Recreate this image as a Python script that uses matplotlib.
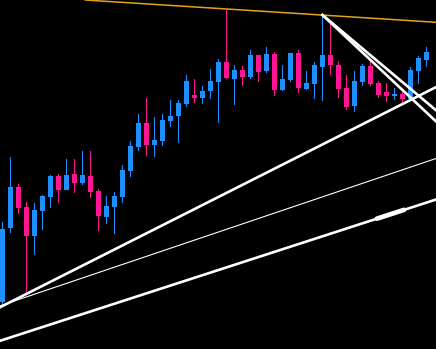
import matplotlib
matplotlib.use("Agg")
import matplotlib.pyplot as plt
import numpy as np

# OHLC of the 54 visible bars (chart units)
opens = [47, 121, 162, 142, 113, 138, 152, 173, 159, 175,
         166, 173, 158, 132, 142, 152, 178, 202, 226, 204,
         208, 228, 233, 245, 254, 251, 258, 267, 287, 270,
         279, 272, 294, 278, 295, 259, 269, 296, 260, 265,
         282, 294, 284, 261, 243, 267, 283, 266, 257, 253,
         255, 250, 278, 289]
highs = [127, 192, 165, 147, 146, 154, 174, 175, 190, 190,
         198, 198, 160, 153, 157, 184, 208, 235, 251, 232,
         235, 249, 249, 274, 270, 263, 280, 290, 339, 284,
         283, 299, 294, 302, 297, 284, 296, 299, 278, 287,
         334, 327, 288, 274, 278, 285, 288, 268, 266, 261,
         259, 282, 293, 302]
lows = [43, 116, 135, 56, 94, 119, 141, 146, 159, 156,
        164, 151, 118, 125, 115, 146, 172, 198, 193, 192,
        203, 222, 206, 242, 246, 245, 250, 226, 270, 244,
        263, 270, 267, 276, 253, 258, 267, 256, 259, 250,
        248, 274, 251, 239, 237, 263, 263, 251, 247, 249,
        246, 249, 265, 282]
closes = [120, 162, 141, 113, 139, 153, 173, 159, 174, 166,
          174, 157, 133, 143, 153, 179, 203, 226, 204, 209,
          229, 233, 246, 268, 251, 258, 268, 287, 271, 279,
          272, 294, 277, 295, 259, 270, 296, 261, 266, 284,
          294, 284, 260, 242, 268, 283, 265, 254, 253, 255,
          250, 279, 291, 297]

# drawn objects: (bar index, price) anchor pairs
resistance = [(19, 344.6), (54, 326.8)]
support_fast = [(0, 43), (51, 249)]
support_slow = [(0, 44), (54, 190)]
channel_low = [(0, 9), (54, 149)]
fan_a = [(40, 334), (54, 240)]
fan_b = [(40, 334), (54, 229)]
channel_mark = (46.8, 50.2)

up_col = "#1e8fff"
down_col = "#ff1493"

x_lo, x_hi = -2.5 / 8, (436 - 2.5) / 8


def ray(pts, x_end):
    (xa, ya), (xb, yb) = pts
    k = (yb - ya) / (xb - xa)
    return [xa, x_end], [ya, ya + k * (x_end - xa)]


fig = plt.figure(figsize=(4.36, 3.49), dpi=100, facecolor="black")
ax = fig.add_axes([0, 0, 1, 1])
ax.set_facecolor("black")
ax.set_axis_off()

o = np.array(opens)
h = np.array(highs)
l = np.array(lows)
c = np.array(closes)
idx = np.arange(len(o))
cols = np.where(c >= o, up_col, down_col)

# wicks as 1px wide bars so they stay crisp
ax.bar(idx, h - l, bottom=l, width=0.14, color=cols, linewidth=0, zorder=2)
body_h = np.maximum(np.abs(c - o), 1.5)
ax.bar(idx, body_h, bottom=np.minimum(o, c), width=0.72, color=cols,
       linewidth=0, zorder=3)

ax.axline(resistance[0], resistance[1], color="#e3a21a", linewidth=1.1, zorder=4)
for pts, lw in [(support_fast, 1.9), (support_slow, 0.8), (channel_low, 1.9)]:
    ax.axline(pts[0], pts[1], color="white", linewidth=lw, zorder=5)
for pts in (fan_a, fan_b):
    xs, ys = ray(pts, x_hi + 1)
    ax.plot(xs, ys, color="white", linewidth=1.9, zorder=5)

# thicker highlighted piece on the lower channel line
(x0, y0), (x1, y1) = channel_low
mx = np.array(channel_mark)
my = y0 + (y1 - y0) / (x1 - x0) * (mx - x0)
ax.plot(mx, my, color="white", linewidth=3.4, solid_capstyle="round", zorder=5)

ax.set_xlim(x_lo, x_hi)
ax.set_ylim(0, 349)

fig.savefig("out.png", dpi=100, facecolor="black")
